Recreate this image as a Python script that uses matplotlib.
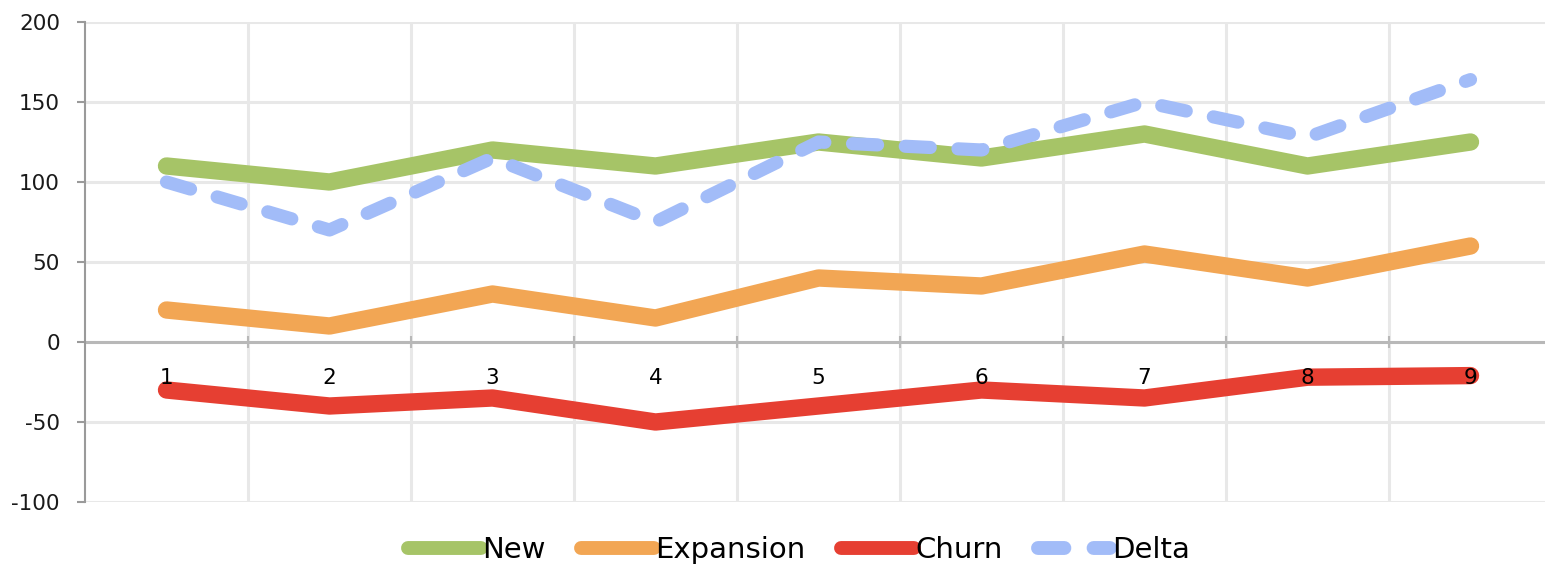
import matplotlib
matplotlib.use("Agg")
import matplotlib.pyplot as plt
import matplotlib.transforms as mtransforms

# monthly bookings breakdown
periods = ["1", "2", "3", "4", "5", "6", "7", "8", "9"]
new = [110, 100, 120, 110, 125, 115, 130, 110, 125]
expansion = [20, 10, 30, 15, 40, 35, 55, 40, 60]
churn = [-30, -40, -35, -50, -40, -30, -35, -22, -21]
delta = [100, 70, 115, 75, 125, 120, 150, 128, 164]

y_ticks = [-100, -50, 0, 50, 100, 150, 200]

GREEN = "#a6c467"
ORANGE = "#f2a654"
RED = "#e63f32"
BLUE = "#a2bcf8"
GRID = "#e8e8e8"
AXIS = "#b8b8b8"

fig = plt.figure(figsize=(15.45, 5.66), dpi=100)
ax = fig.add_axes([85 / 1545, 1 - 502 / 566, 1467 / 1545, 480 / 566])

x = list(range(1, len(periods) + 1))
solid = dict(lw=12.5, solid_capstyle="round", solid_joinstyle="round", zorder=3)
ax.plot(x, new, color=GREEN, label="New", **solid)
ax.plot(x, expansion, color=ORANGE, label="Expansion", **solid)
ax.plot(x, churn, color=RED, label="Churn", **solid)
ax.plot(x, delta, color=BLUE, lw=9.5, linestyle=(0, (1.9, 2.1)), dash_capstyle="round",
        label="Delta", zorder=4)

ax.set_xlim(0.5, len(periods) + 0.5)
ax.set_ylim(-100, 200)
ax.set_yticks(y_ticks)
ax.set_yticklabels([str(v) for v in y_ticks])

# gridlines sit between categories, like a category axis
boundaries = [i + 0.5 for i in range(len(periods) + 1)]
for b in boundaries[1:-1]:
    ax.axvline(b, color=GRID, lw=2.2, zorder=0)
for v in y_ticks:
    ax.axhline(v, color=GRID, lw=2.2, zorder=0)
ax.set_xticks([])

# zero baseline with small tick marks
ax.axhline(0, color=AXIS, lw=2.2, zorder=1)
ax.plot(boundaries[1:-1], [0] * (len(boundaries) - 2), linestyle="none", marker="|",
        markersize=8, markeredgewidth=1.5, color=AXIS, zorder=1)

for side in ["top", "right", "bottom"]:
    ax.spines[side].set_visible(False)
ax.spines["left"].set_color("#9a9a9a")
ax.spines["left"].set_linewidth(1.5)
ax.tick_params(axis="y", length=6, width=1.5, color="#9a9a9a", pad=12,
               labelsize=15.5, labelcolor="#1a1a1a")

# category labels hang just under the zero line, on top of the lines
offset = mtransforms.ScaledTranslation(0, -0.36, fig.dpi_scale_trans)
for xi, lab in zip(x, periods):
    ax.text(xi, 0, lab, transform=ax.transData + offset, ha="center", va="center",
            fontsize=15.5, color="black", zorder=6)

leg = fig.legend(loc="center", bbox_to_anchor=(799 / 1545, 1 - 550 / 566), ncol=4,
                 frameon=False, fontsize=21, handlelength=2.5, handletextpad=0.05,
                 columnspacing=1.2, borderpad=0, borderaxespad=0)
for h in leg.get_lines():
    h.set_linewidth(10)
    h.set_solid_capstyle("round")
    h.set_dash_capstyle("round")

fig.savefig("out.png", dpi=100)
